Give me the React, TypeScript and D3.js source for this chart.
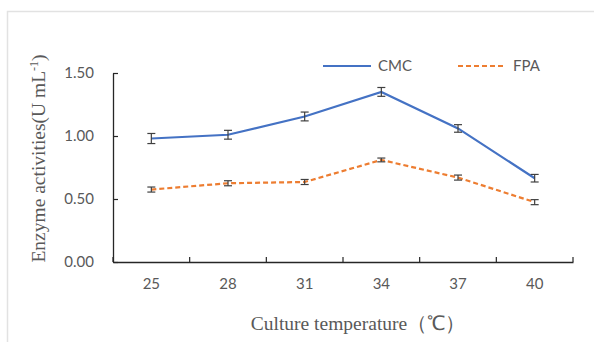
import { useRef, useEffect } from 'react';
import * as d3 from 'd3';

const temps = ['25', '28', '31', '34', '37', '40'];
const cmc = [0.98, 1.01, 1.155, 1.35, 1.06, 0.665];
const cmcErr = [0.04, 0.035, 0.035, 0.035, 0.03, 0.03];
const fpa = [0.575, 0.625, 0.635, 0.81, 0.67, 0.475];
const fpaErr = [0.02, 0.02, 0.02, 0.015, 0.02, 0.02];
const yTicks = [0, 0.5, 1.0, 1.5];

const W = 594;
const H = 342;
const M = { top: 73, right: 21, bottom: 80, left: 113 };

export default function App() {
  const svgRef = useRef<SVGSVGElement>(null);

  useEffect(() => {
    const svg = d3.select(svgRef.current);
    svg.selectAll('*').remove();

    const w = W - M.left - M.right;
    const h = H - M.top - M.bottom;

    // faint frame of the original screenshot
    svg.append('path').attr('d', `M7.5,${H} V11.5 H${W}`)
      .attr('fill', 'none').attr('stroke', '#e2e2e2').attr('stroke-width', 1.5);

    const g = svg.append('g').attr('transform', `translate(${M.left},${M.top})`);

    const x = d3.scaleBand().domain(temps).range([0, w]).padding(0);
    const y = d3.scaleLinear().domain([0, 1.5]).range([h, 0]);
    const cx = (t: string) => (x(t) as number) + x.bandwidth() / 2;
    const sans = 'Lato, "Open Sans", sans-serif';

    // y axis
    const ya = g.append('g').call(
      d3.axisLeft(y).tickValues(yTicks).tickFormat(d3.format('.2f')).tickSizeInner(-5).tickSizeOuter(0).tickPadding(19)
    );
    ya.select('.domain').attr('stroke', '#262626').attr('stroke-width', 1.3);
    ya.selectAll('.tick line').attr('stroke', '#262626').attr('stroke-width', 1.2);
    ya.selectAll('.tick text').attr('fill', '#595959').attr('font-size', '15px').attr('font-family', sans);

    // x axis with boundaries between categories
    const xa = g.append('g').attr('transform', `translate(0,${h})`)
      .call(d3.axisBottom(x).tickSize(0).tickPadding(16));
    xa.select('.domain').attr('stroke', '#262626').attr('stroke-width', 1.3);
    xa.selectAll('.tick text').attr('fill', '#595959').attr('font-size', '15px').attr('font-family', sans);
    const bounds = temps.map(t => x(t) as number).concat([w]);
    xa.selectAll('line.bound').data(bounds).enter().append('line')
      .attr('class', 'bound')
      .attr('x1', d => d).attr('x2', d => d).attr('y1', 0).attr('y2', -5)
      .attr('stroke', '#262626').attr('stroke-width', 1.2);

    const series = [
      { vals: cmc, err: cmcErr, color: '#4472C4', dash: null as string | null },
      { vals: fpa, err: fpaErr, color: '#ED7D31', dash: '5,3' },
    ];

    series.forEach(s => {
      const line = d3.line<number>().x((_, i) => cx(temps[i])).y(d => y(d));
      const p = g.append('path').datum(s.vals).attr('d', line)
        .attr('fill', 'none').attr('stroke', s.color).attr('stroke-width', 2.2);
      if (s.dash) p.attr('stroke-dasharray', s.dash);
    });

    series.forEach(s => {
      s.vals.forEach((v, i) => {
        const px = cx(temps[i]);
        const top = y(v + s.err[i]);
        const bot = y(v - s.err[i]);
        const eg = g.append('g').attr('stroke', '#404040').attr('stroke-width', 1.2);
        eg.append('line').attr('x1', px).attr('x2', px).attr('y1', top).attr('y2', bot);
        eg.append('line').attr('x1', px - 4).attr('x2', px + 4).attr('y1', top).attr('y2', top);
        eg.append('line').attr('x1', px - 4).attr('x2', px + 4).attr('y1', bot).attr('y2', bot);
      });
    });

    // legend
    const legend = [
      { label: 'CMC', color: '#4472C4', dash: null as string | null, x: 323 },
      { label: 'FPA', color: '#ED7D31', dash: '5,3', x: 458 },
    ];
    legend.forEach(l => {
      const ln = svg.append('line').attr('x1', l.x).attr('x2', l.x + 48).attr('y1', 66).attr('y2', 66)
        .attr('stroke', l.color).attr('stroke-width', 2.2);
      if (l.dash) ln.attr('stroke-dasharray', l.dash);
      svg.append('text').attr('x', l.x + 55).attr('y', 71).text(l.label)
        .attr('fill', '#595959').attr('font-size', '15px').attr('font-family', sans);
    });

    // axis titles
    const yt = svg.append('text')
      .attr('transform', `translate(45,${M.top + h / 2 - 9}) rotate(-90)`)
      .attr('text-anchor', 'middle').attr('fill', '#595959')
      .attr('font-size', '19.5px').attr('font-family', '"Liberation Serif", serif');
    yt.append('tspan').text('Enzyme activities(U mL');
    yt.append('tspan').attr('dy', -7).attr('font-size', '12px').text('-1');
    yt.append('tspan').attr('dy', 7).text(')');

    svg.append('text').attr('x', 358).attr('y', 330)
      .attr('text-anchor', 'middle').attr('fill', '#595959')
      .attr('font-size', '19.5px').attr('font-family', '"Liberation Serif", serif')
      .text('Culture temperature（℃）');
  }, []);

  return <svg ref={svgRef} width={W} height={H} style={{ position: 'absolute', left: 0, top: 0, background: '#fff' }} />;
}
